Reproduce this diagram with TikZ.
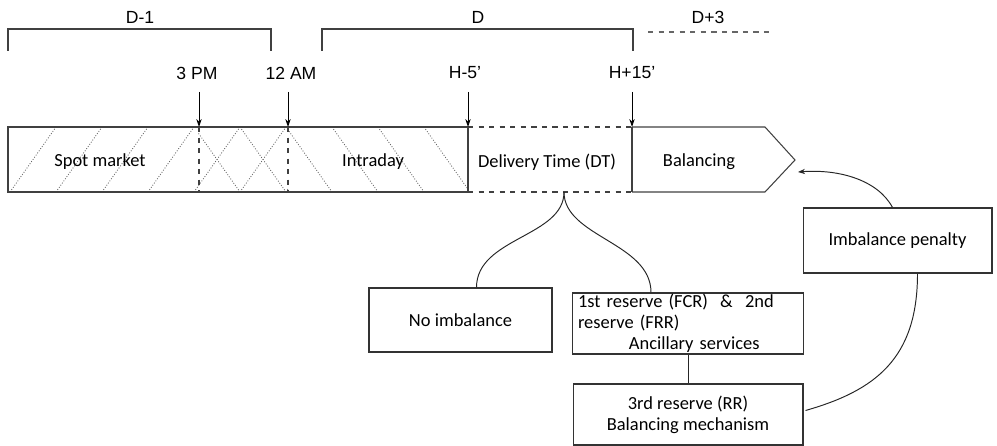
\documentclass[tikz,border=0pt]{standalone}
\usepackage{fontspec}
\setmainfont{Carlito}
\newfontfamily\arialfont{Liberation Sans}
\usetikzlibrary{arrows.meta, positioning, calc}

\begin{document}
\begin{tikzpicture}[
  x=0.02cm, y=-0.02cm,
  lbl/.style={font=\arialfont\fontsize{10}{12}\selectfont, inner sep=0pt},
  txt/.style={font=\fontsize{10.5}{12}\selectfont, inner sep=0pt},
  rbox/.style={draw=black!80, line width=0.6pt, font=\fontsize{10.5}{12}\selectfont, align=center, inner ysep=0pt},
  outline/.style={draw=black!75, line width=0.6pt},
  hatch/.style={black!60, densely dotted, line width=0.5pt},
  tick/.style={-{Stealth[length=4.5pt, width=3pt]}, line width=0.5pt, shorten <=7pt},
  link/.style={black!85, line width=0.55pt}
]
  \useasboundingbox (0,0) rectangle (997,446);

  % day brackets
  \draw[black!75, line width=0.6pt] (8,51) -- (8,29) -- (271,29) -- (271,51);
  \draw[black!75, line width=0.6pt] (322,51) -- (322,29) -- (633,29) -- (633,51);
  \draw[black!60, dashed, line width=0.6pt] (648,32) -- (772,32);
  \node[lbl] (dm1) at (140,17) {D-1};
  \node[lbl] (d0) at (478,17) {D};
  \node[lbl] (dp3) at (708,17) {D+3};

  % hatching
  \begin{scope}
    \clip (8,127) rectangle (288,192);
    \foreach \x in {-36,10,...,288} \draw[hatch] (\x,192) -- ++(46,-65);
  \end{scope}
  \begin{scope}
    \clip (198,127) rectangle (468,192);
    \foreach \x in {148,194,...,468} \draw[hatch] (\x,127) -- ++(46,65);
  \end{scope}

  % time bar
  \draw[outline] (468,127) -- (8,127) -- (8,192) -- (468,192);
  \draw[outline, dashed] (468,127) -- (632,127) (468,192) -- (632,192);
  \draw[outline] (632,127) -- (765,127) -- (795,160) -- (765,192) -- (632,192);
  \draw[outline, dashed] (199,127) -- (199,192) (288,127) -- (288,192);
  \draw[outline] (468,127) -- (468,192) (632,127) -- (632,192);

  \node[txt] (spot) at (100,162) {Spot market};
  \node[txt] (intra) at (373,162) {Intraday};
  \node[txt] (dt) at (547,162) {Delivery Time (DT)};
  \node[txt] (bal) at (699,162) {Balancing};

  % time marks
  \coordinate (m3pm) at (199,127);
  \coordinate (m12am) at (288,127);
  \coordinate (mh5) at (468,127);
  \coordinate (mh15) at (632,127);
  \coordinate (dtb) at (564,192);
  \coordinate (baltip) at (798,172);
  \node[lbl] (l3pm) at (197,73) {3 PM};
  \node[lbl] (l12am) at (291,73) {12 AM};
  \node[lbl] (lh5) at (465,73) {H-5’};
  \node[lbl] (lh15) at (632,73) {H+15’};
  \draw[tick] (l3pm.south -| m3pm) -- (m3pm);
  \draw[tick] (l12am.south -| m12am) -- (m12am);
  \draw[tick] (lh5.south -| mh5) -- (mh5);
  \draw[tick] (lh15.south -| mh15) -- (mh15);

  % outcome boxes
  \node[rbox, minimum width=3.66cm, minimum height=1.28cm] (noimb) at (460.5,320) {No imbalance};
  \node[rbox, minimum width=4.6cm, minimum height=1.22cm, text width=4.4cm, align=left] (res12) at (688,323.5)
    {1st reserve (FCR)\ \ \&\ \ 2nd\\ reserve (FRR)\\ \hspace*{29pt}Ancillary services};
  \node[rbox, minimum width=4.6cm, minimum height=1.22cm] (res3) at (688,414.5)
    {3rd reserve (RR)\\ Balancing mechanism};
  \node[rbox, minimum width=3.78cm, minimum height=1.3cm] (pen) at (897.5,240.5) {Imbalance penalty};

  % connectors
  \draw[link] (dtb) .. controls +(0,45) and +(0,-50) .. ($(noimb.north)+(16,0)$);
  \draw[link] (dtb) .. controls +(0,45) and +(0,-50) .. ($(res12.north)+(-37,0)$);
  \draw[link] (res12.south) -- (res3.north);
  \draw[link, -{Stealth[length=4pt, width=3pt]}] ($(pen.north)+(-5,0)$) .. controls +(-15,-28) and +(40,-3) .. (baltip);
  \draw[link] ($(pen.south)+(20,0)$) .. controls +(0,85) and +(70,-20) .. ($(res3.east)+(2,-4)$);
\end{tikzpicture}
\end{document}
